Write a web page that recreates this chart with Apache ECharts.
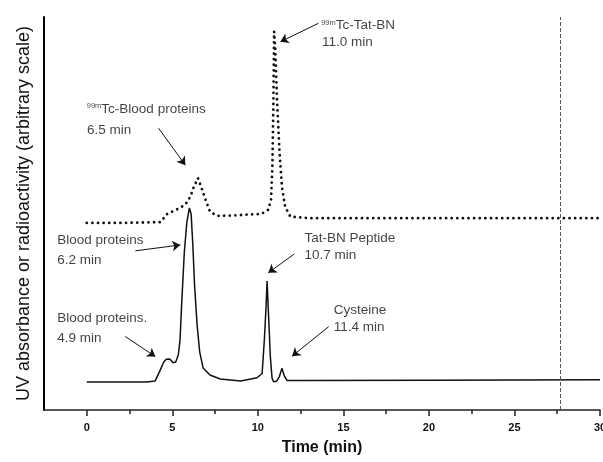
<!DOCTYPE html>
<html><head><meta charset="utf-8">
<script src="https://cdn.jsdelivr.net/npm/echarts@6/dist/echarts.min.js"></script>
<style>html,body{margin:0;padding:0;background:#fff}#c{width:603px;height:462px}</style>
</head><body><div id="c"></div>
<script>
// UV absorbance trace (solid)
const uvTime   = [0, 2, 3.5, 4.0, 4.3, 4.5, 4.65, 4.75, 4.85, 5.05, 5.2, 5.35, 5.45, 5.55, 5.7, 5.85, 6.0, 6.1, 6.2, 6.3, 6.45, 6.6, 6.8, 7.2, 7.8, 9, 9.95, 10.25, 10.38, 10.48, 10.54, 10.63, 10.73, 10.83, 10.92, 11.08, 11.26, 11.41, 11.55, 11.71, 13, 20, 30];
const uvSignal = [7.1, 7.1, 7.1, 7.4, 10.2, 12.2, 12.9, 12.5, 13.0, 12.0, 12.2, 14.0, 17.8, 27.2, 40.0, 47.8, 51.4, 49.9, 42.0, 31.8, 21.6, 14.8, 10.7, 8.9, 7.9, 7.4, 8.2, 9.3, 17.8, 26.3, 32.8, 23.7, 13.6, 8.1, 7.2, 7.3, 8.5, 10.6, 8.6, 7.5, 7.5, 7.6, 7.7];
// Radioactivity trace (dotted)
const radTime   = [0, 2, 4.3, 4.7, 5.2, 5.75, 6.05, 6.25, 6.5, 6.75, 6.95, 7.2, 7.6, 8.5, 10.2, 10.6, 10.77, 10.85, 10.91, 10.95, 11.02, 11.12, 11.26, 11.41, 11.6, 11.9, 13, 30];
const radSignal = [47.6, 47.6, 47.8, 49.9, 50.9, 52.2, 54.2, 56.7, 59.0, 56.0, 53.4, 50.5, 49.4, 49.5, 49.9, 50.9, 53.4, 61.9, 78.9, 96.3, 91.6, 78.9, 66.2, 56.7, 51.7, 49.2, 48.8, 48.8];
// Axis ticks
const xTickValues = [0, 5, 10, 15, 20, 25, 30];
const xMinorTickValues = [2.5, 7.5, 12.5, 17.5, 22.5, 27.5];
// Annotation texts and their anchors (time, level)
const labelTexts  = ['{sup|99m}Tc-Tat-BN', '11.0 min', '{sup|99m}Tc-Blood proteins', '6.5 min', 'Blood proteins', '6.2 min', 'Blood proteins.', '4.9 min', 'Tat-BN Peptide', '10.7 min', 'Cysteine', '11.4 min'];
const labelTimes  = [13.7, 13.75, 0.0, 0.01, -1.73, -1.73, -1.73, -1.73, 12.72, 12.72, 14.43, 14.43];
const labelLevels = [97.8, 93.5, 76.6, 71.2, 43.1, 38.2, 23.3, 18.2, 43.8, 39.4, 25.4, 21.0];
// Arrows: tail -> head (time, level)
const arrowTails = [[13.54, 98.4], [4.20, 71.7], [2.84, 40.5], [2.25, 18.7], [12.13, 39.7], [14.14, 21.2]];
const arrowHeads = [[11.32, 93.7], [5.76, 62.3], [5.47, 42.0], [4.01, 13.6], [10.61, 34.9], [12.0, 13.7]];
const foldLineTime = 27.66;

const font = 'Liberation Sans, Arial, Helvetica, sans-serif';
const chart = echarts.init(document.getElementById('c'), null, {renderer: 'canvas'});
chart.setOption({
  animation: false,
  backgroundColor: '#fff',
  grid: {left: 44, right: 3, top: 17, bottom: 52, containLabel: false, outerBoundsMode: 'none'},
  xAxis: [{
    type: 'value', min: -2.5, max: 30, interval: 2.5,
    axisLine: {show: true, onZero: false, lineStyle: {color: '#222', width: 1.5}},
    axisTick: {show: true, customValues: xTickValues, length: 6, lineStyle: {color: '#222', width: 1.5}},
    axisLabel: {customValues: xTickValues, margin: 12, fontSize: 11, fontWeight: 'bold', color: '#111', fontFamily: font, showMaxLabel: true, hideOverlap: false},
    splitLine: {show: false},
    name: 'Time (min)', nameLocation: 'middle', nameGap: 30,
    nameTextStyle: {fontSize: 16, fontWeight: 'bold', color: '#111', fontFamily: font}
  }, {
    type: 'value', min: -2.5, max: 30, interval: 2.5, position: 'bottom', gridIndex: 0,
    axisLine: {show: false, onZero: false},
    axisTick: {show: true, customValues: xMinorTickValues, length: 4, lineStyle: {color: '#222', width: 1.5}},
    axisLabel: {show: false}, splitLine: {show: false}
  }],
  yAxis: {
    type: 'value', min: 0, max: 100,
    axisLine: {show: true, onZero: false, lineStyle: {color: '#000', width: 2}},
    axisTick: {show: false}, axisLabel: {show: false}, splitLine: {show: false},
    name: 'UV absorbance or radioactivity (arbitrary scale)', nameLocation: 'middle', nameGap: 11, nameRotate: 90,
    nameTextStyle: {fontSize: 18, color: '#111', fontFamily: font}
  },
  series: [{
    name: 'UV', type: 'line', xAxisIndex: 0, showSymbol: false, silent: true,
    data: uvTime.map((t, i) => [t, uvSignal[i]]),
    lineStyle: {color: '#111', width: 1.5}
  }, {
    name: 'Radioactivity', type: 'line', xAxisIndex: 0, showSymbol: false, silent: true,
    data: radTime.map((t, i) => [t, radSignal[i]]),
    lineStyle: {color: '#111', width: 2.8, type: [0.01, 5.6], cap: 'round'}
  }, {
    name: 'labels', type: 'scatter', xAxisIndex: 0, symbolSize: 0, silent: true,
    data: labelTimes.map((t, i) => [t, labelLevels[i]]),
    label: {
      show: true, position: 'right', distance: 0, align: 'left', verticalAlign: 'middle',
      formatter: p => labelTexts[p.dataIndex],
      fontSize: 13.5, color: '#111', fontFamily: font,
      rich: {sup: {fontSize: 7.5, color: '#111', fontFamily: font, verticalAlign: 'top'}}
    }
  }, {
    name: 'arrows', type: 'line', xAxisIndex: 0, data: [], silent: true,
    markLine: {
      silent: true, animation: false, symbol: ['none', 'arrow'], symbolSize: 8,
      label: {show: false},
      lineStyle: {color: '#111', width: 1, type: 'solid'},
      data: arrowTails.map((a, i) => [{coord: a}, {coord: arrowHeads[i]}])
    }
  }, {
    name: 'fold', type: 'line', xAxisIndex: 0, data: [], silent: true,
    markLine: {
      silent: true, animation: false, symbol: ['none', 'none'], label: {show: false},
      lineStyle: {color: '#555', width: 1, type: [4, 2]},
      data: [{xAxis: foldLineTime}]
    }
  }]
});
</script></body></html>
